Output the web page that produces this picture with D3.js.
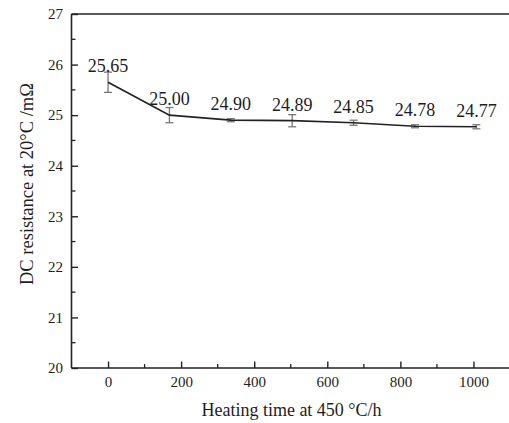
<!DOCTYPE html>
<html>
<head>
<meta charset="utf-8">
<script src="https://cdn.jsdelivr.net/npm/d3@7"></script>
<style>
  html, body { margin: 0; padding: 0; background: #fff; }
  svg { display: block; }
  text { font-family: "Liberation Serif", "DejaVu Serif", serif; fill: #1e1e1e; }
</style>
</head>
<body>
<svg id="chart" width="509" height="423"></svg>
<script>
// Heating time (h) and measured DC resistance (mΩ) with error half-widths
const hours = [0, 168, 336, 504, 672, 840, 1008];
const resistance = [25.65, 25.00, 24.90, 24.89, 24.85, 24.78, 24.77];
const errHalf = [0.20, 0.15, 0.03, 0.12, 0.05, 0.03, 0.04];
const xTicks = [0, 200, 400, 600, 800, 1000];
const yTicks = [20, 21, 22, 23, 24, 25, 26, 27];

const serif = '"Liberation Serif", "DejaVu Serif", serif';
const svg = d3.select("#chart");
const plotLeft = 71.5, plotRight = 510, plotTop = 14, plotBottom = 368;

const x = d3.scaleLinear().domain([-100, 1100]).range([plotLeft, plotRight]);
const y = d3.scaleLinear().domain([20, 27]).range([plotBottom, plotTop]);

// frame: top and right borders
svg.append("line").attr("x1", plotLeft).attr("x2", plotRight).attr("y1", plotTop).attr("y2", plotTop)
  .attr("stroke", "#222").attr("stroke-width", 1.4);
svg.append("line").attr("x1", plotRight).attr("x2", plotRight).attr("y1", plotTop).attr("y2", plotBottom)
  .attr("stroke", "#222").attr("stroke-width", 1.4);

// bottom axis, ticks pointing inward
const xAxis = d3.axisBottom(x).tickValues(xTicks).tickSize(-6.5).tickPadding(8.5).tickFormat(d3.format("d"));
const gx = svg.append("g").attr("transform", `translate(0,${plotBottom})`).call(xAxis);
gx.attr("font-family", serif);
gx.select(".domain").remove();
gx.append("line").attr("x1", plotLeft).attr("x2", plotRight).attr("stroke", "#222").attr("stroke-width", 1.6);
gx.selectAll(".tick line").attr("stroke", "#222").attr("stroke-width", 1.4);
gx.selectAll(".tick text").attr("font-size", 15).attr("fill", "#1e1e1e");
const xMinor = d3.range(-100, 1101, 200).filter(v => v > -100);
gx.selectAll(".minor").data(xMinor).enter().append("line")
  .attr("x1", d => x(d)).attr("x2", d => x(d)).attr("y1", 0).attr("y2", -4)
  .attr("stroke", "#222").attr("stroke-width", 1.3);

// left axis, ticks pointing inward
const yAxis = d3.axisLeft(y).tickValues(yTicks).tickSize(-6.5).tickPadding(8.5).tickFormat(d3.format("d"));
const gy = svg.append("g").attr("transform", `translate(${plotLeft},0)`).call(yAxis);
gy.attr("font-family", serif);
gy.select(".domain").remove();
gy.append("line").attr("y1", plotTop).attr("y2", plotBottom).attr("stroke", "#222").attr("stroke-width", 1.6);
gy.selectAll(".tick line").attr("stroke", "#222").attr("stroke-width", 1.4);
gy.selectAll(".tick text").attr("font-size", 15).attr("fill", "#1e1e1e");
const yMinor = d3.range(20.5, 27, 1);
gy.selectAll(".minor").data(yMinor).enter().append("line")
  .attr("y1", d => y(d)).attr("y2", d => y(d)).attr("x1", 0).attr("x2", 4)
  .attr("stroke", "#222").attr("stroke-width", 1.3);

const pts = hours.map((h, i) => ({ h, r: resistance[i], e: errHalf[i] }));

// error bars
const eb = svg.append("g").attr("stroke", "#777").attr("stroke-width", 1.3);
pts.forEach(p => {
  eb.append("line").attr("x1", x(p.h)).attr("x2", x(p.h)).attr("y1", y(p.r - p.e)).attr("y2", y(p.r + p.e));
  [p.r - p.e, p.r + p.e].forEach(v => {
    eb.append("line").attr("x1", x(p.h) - 4).attr("x2", x(p.h) + 4).attr("y1", y(v)).attr("y2", y(v));
  });
});

// data line
svg.append("path").datum(pts)
  .attr("d", d3.line().x(d => x(d.h)).y(d => y(d.r)))
  .attr("fill", "none").attr("stroke", "#222").attr("stroke-width", 1.7);

// value labels
svg.append("g").selectAll("text").data(pts).enter().append("text")
  .attr("x", d => x(d.h)).attr("y", d => y(d.r) - 10)
  .attr("text-anchor", "middle").attr("font-size", 18)
  .text(d => d.r.toFixed(2));

// axis titles
svg.append("text").attr("x", 291.5).attr("y", 416).attr("text-anchor", "middle")
  .attr("font-size", 18).text("Heating time at 450 °C/h");
svg.append("text").attr("transform", "translate(33,184) rotate(-90)")
  .attr("text-anchor", "middle").attr("font-size", 18.5).text("DC resistance at 20°C /mΩ");
</script>
</body>
</html>
